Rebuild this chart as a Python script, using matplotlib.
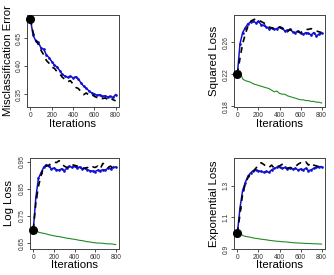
import numpy as np
import matplotlib
matplotlib.use('Agg')
import matplotlib.pyplot as plt

plt.rcParams['font.family'] = ['Liberation Sans', 'DejaVu Sans']

# Iteration grid shared by all panels
iterations = np.arange(0, 801, 25)

# Misclassification error
mis_black = [0.484, 0.460, 0.447, 0.438, 0.428, 0.420, 0.410, 0.405, 0.398, 0.396, 0.390,
             0.386, 0.380, 0.376, 0.372, 0.374, 0.368, 0.362, 0.360, 0.354, 0.349, 0.352,
             0.348, 0.350, 0.346, 0.344, 0.345, 0.342, 0.343, 0.341, 0.344, 0.340, 0.338]
mis_blue = [0.484, 0.455, 0.445, 0.442, 0.432, 0.430, 0.420, 0.415, 0.408, 0.402, 0.398,
            0.392, 0.385, 0.382, 0.380, 0.382, 0.379, 0.381, 0.377, 0.370, 0.364, 0.360,
            0.356, 0.352, 0.350, 0.348, 0.349, 0.346, 0.347, 0.345, 0.346, 0.344, 0.349]

# Squared loss
sq_black = [0.220, 0.240, 0.258, 0.270, 0.280, 0.286, 0.288, 0.289, 0.287, 0.286, 0.284,
            0.283, 0.279, 0.278, 0.277, 0.276, 0.279, 0.277, 0.276, 0.273, 0.276, 0.274,
            0.274, 0.273, 0.272, 0.274, 0.276, 0.276, 0.277, 0.275, 0.274, 0.273, 0.272]
sq_blue = [0.220, 0.258, 0.272, 0.278, 0.283, 0.285, 0.287, 0.284, 0.286, 0.282, 0.281,
           0.279, 0.277, 0.278, 0.276, 0.277, 0.279, 0.278, 0.274, 0.275, 0.276, 0.273,
           0.272, 0.274, 0.271, 0.270, 0.272, 0.271, 0.269, 0.272, 0.268, 0.270, 0.271]
sq_green = [0.221, 0.224, 0.214, 0.212, 0.211, 0.210, 0.208, 0.207, 0.206, 0.205, 0.204,
            0.203, 0.202, 0.200, 0.198, 0.199, 0.196, 0.195, 0.195, 0.193, 0.192, 0.191,
            0.190, 0.189, 0.188, 0.188, 0.187, 0.187, 0.186, 0.186, 0.185, 0.185, 0.184]

# Log loss
log_black = [0.700, 0.800, 0.860, 0.900, 0.930, 0.935, 0.938, 0.945, 0.950, 0.948, 0.955,
             0.945, 0.935, 0.930, 0.932, 0.940, 0.938, 0.935, 0.930, 0.928, 0.927, 0.930,
             0.925, 0.932, 0.930, 0.935, 0.925, 0.945, 0.940, 0.930, 0.935, 0.925, 0.930]
log_blue = [0.700, 0.820, 0.890, 0.910, 0.930, 0.940, 0.935, 0.925, 0.928, 0.922, 0.920,
            0.925, 0.918, 0.927, 0.935, 0.930, 0.934, 0.928, 0.932, 0.925, 0.927, 0.922,
            0.918, 0.917, 0.915, 0.920, 0.918, 0.922, 0.920, 0.928, 0.925, 0.930, 0.932]
log_green = [0.700, 0.705, 0.690, 0.688, 0.686, 0.684, 0.681, 0.679, 0.677, 0.675, 0.674,
             0.672, 0.670, 0.668, 0.667, 0.665, 0.664, 0.662, 0.660, 0.659, 0.657, 0.655,
             0.654, 0.652, 0.651, 0.650, 0.650, 0.649, 0.648, 0.647, 0.647, 0.646, 0.644]

# Exponential loss
exp_black = [1.000, 1.120, 1.250, 1.310, 1.350, 1.375, 1.390, 1.410, 1.430, 1.445, 1.435,
             1.420, 1.415, 1.430, 1.410, 1.420, 1.425, 1.435, 1.420, 1.410, 1.415, 1.410,
             1.420, 1.435, 1.445, 1.440, 1.450, 1.430, 1.445, 1.430, 1.425, 1.420, 1.425]
exp_blue = [1.000, 1.160, 1.270, 1.320, 1.360, 1.380, 1.395, 1.400, 1.395, 1.390, 1.385,
            1.390, 1.385, 1.400, 1.410, 1.415, 1.420, 1.410, 1.415, 1.405, 1.410, 1.405,
            1.410, 1.400, 1.405, 1.400, 1.410, 1.395, 1.400, 1.410, 1.415, 1.420, 1.420]
exp_green = [1.000, 1.005, 0.985, 0.980, 0.977, 0.974, 0.970, 0.967, 0.965, 0.962, 0.960,
             0.958, 0.955, 0.953, 0.951, 0.949, 0.948, 0.946, 0.945, 0.944, 0.942, 0.940,
             0.939, 0.938, 0.937, 0.936, 0.935, 0.935, 0.934, 0.933, 0.933, 0.932, 0.931]

W, H = 334, 275
fig = plt.figure(figsize=(W / 100, H / 100), dpi=100)


def make_axes(left, top, right, bottom):
    return fig.add_axes([left / W, 1 - bottom / H, (right - left) / W, (bottom - top) / H])


panels = [
    dict(box=(27, 15, 119, 107), ylabel='Misclassification Error', ylim=(0.327, 0.491),
         yticks=[0.35, 0.40, 0.45], fmt='%.2f', black=mis_black, blue=mis_blue, green=None,
         ylab_x=-0.207, xlab_y=-0.185),
    dict(box=(234, 15, 325, 107), ylabel='Squared Loss', ylim=(0.179, 0.294),
         yticks=[0.18, 0.22, 0.26], fmt='%.2f', black=sq_black, blue=sq_blue, green=sq_green,
         ylab_x=-0.22, xlab_y=-0.185),
    dict(box=(30, 158, 119, 249), ylabel='Log Loss', ylim=(0.628, 0.965),
         yticks=[0.65, 0.75, 0.85, 0.95], fmt='%.2f', black=log_black, blue=log_blue,
         green=log_green, ylab_x=-0.236, xlab_y=-0.176),
    dict(box=(234, 158, 325, 249), ylabel='Exponential Loss', ylim=(0.906, 1.475),
         yticks=[0.9, 1.1, 1.3], fmt='%.1f', black=exp_black, blue=exp_blue, green=exp_green,
         ylab_x=-0.22, xlab_y=-0.176),
]

for p in panels:
    ax = make_axes(*p['box'])
    ax.plot(iterations, p['blue'], color='#1010d0', lw=1.1, marker='.', ms=1.8)
    ax.plot(iterations, p['black'], color='black', lw=1.2, dashes=(3.5, 3))
    if p['green'] is not None:
        ax.plot(iterations, p['green'], color='#228b22', lw=0.8)
    ax.plot([0], [p['black'][0]], 'o', color='black', ms=5.5, zorder=5, clip_on=False)

    ax.set_xlim(-32, 832)
    ax.set_ylim(*p['ylim'])
    ax.set_xticks([0, 200, 400, 600, 800])
    ax.set_yticks(p['yticks'])
    ax.set_yticklabels([p['fmt'] % v for v in p['yticks']], rotation=90, va='center')
    ax.tick_params(labelsize=4.8, length=2.2, width=0.6, pad=1.2, colors='#333333')
    for s in ax.spines.values():
        s.set_color('#444444')
        s.set_linewidth(0.7)

    ax.set_xlabel('Iterations', fontsize=8.2)
    ax.set_ylabel(p['ylabel'], fontsize=8.2)
    ax.xaxis.label.set_va('center')
    ax.yaxis.label.set_va('center')
    ax.xaxis.set_label_coords(0.5, p['xlab_y'])
    ax.yaxis.set_label_coords(p['ylab_x'], 0.5)

fig.savefig('out.png', dpi=100)
